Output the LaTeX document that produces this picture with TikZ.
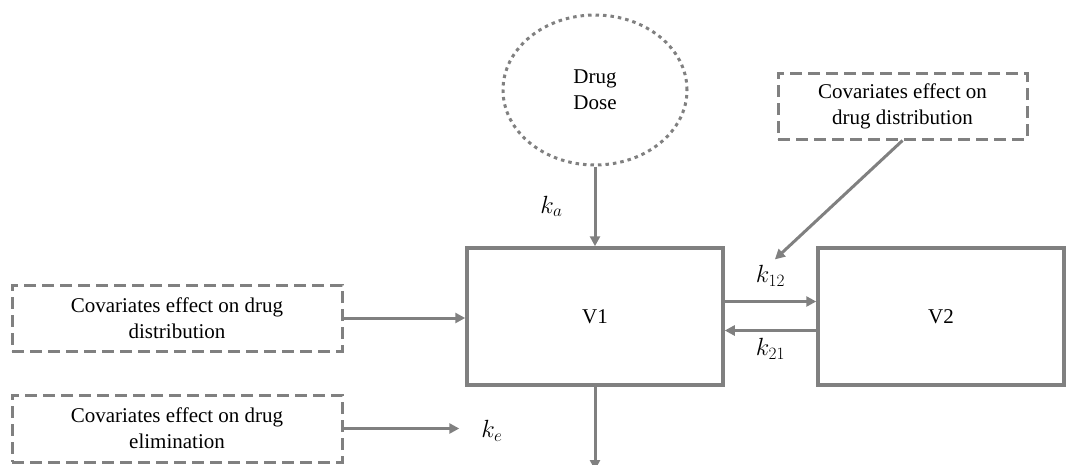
\documentclass[tikz,border=0pt]{standalone}
\usepackage{fontspec}
\setmainfont{Liberation Serif}
\usetikzlibrary{shapes.geometric,arrows.meta}
\definecolor{boxgray}{RGB}{128,128,128}

\begin{document}
\begin{tikzpicture}[x=1pt,y=-1pt]
        \tikzstyle{every node}+=[inner sep=0pt, align=center, font=\fontsize{21}{26}\selectfont]
        \tikzstyle{comp}=[draw=boxgray, line width=3.5pt, rectangle, minimum height=137pt]
        \tikzstyle{cov}=[draw=boxgray, line width=3pt, dash pattern=on 12pt off 6pt, rectangle, minimum height=66pt]
        \tikzstyle{flow}=[draw=boxgray, line width=3pt, -{Triangle[length=10pt,width=10pt]}]
        \tikzstyle{rate}=[font=\fontsize{25}{30}\selectfont]
        \useasboundingbox (0,0) rectangle (1066,464);
        % dose and compartments
        \node [draw=boxgray, line width=3pt, dash pattern=on 3.5pt off 4pt, ellipse, minimum width=184pt, minimum height=150pt] (dose) at (595,90) {Drug\\Dose};
        \node [comp, minimum width=256pt] (v1) at (595,316.5) {V1};
        \node [comp, minimum width=246pt] (v2) at (941,316.5) {V2};
        % covariate boxes
        \node [cov, minimum width=249pt] (cdist) at (902.5,106) {Covariates effect on\\drug distribution};
        \node [cov, minimum width=330pt] (cdistl) at (177,318) {Covariates effect on drug\\distribution};
        \node [cov, minimum width=330pt, minimum height=67pt] (celim) at (177,428.5) {Covariates effect on drug\\elimination};
        \node [rate] (ke) at (492,431) {$k_e$};
        \coordinate (sink) at (595,470);
        % flows
        \draw [flow] (dose) -- node [rate, left=31pt] (ka) {$k_a$} (v1);
        \draw [flow] ([yshift=15pt]v1.east) -- node [rate, above=14pt] (k12) {$k_{12}$} ([yshift=15pt]v2.west);
        \draw [flow] ([yshift=-14pt]v2.west) -- node [rate, below=6pt] (k21) {$k_{21}$} ([yshift=-14pt]v1.east);
        \draw [flow, shorten >=6pt] (cdist.south) -- (k12.north);
        \draw [flow] (cdistl) -- (cdistl -| v1.west);
        \draw [flow, shorten >=22pt] (celim.east) -- (celim.east -| ke.west);
        \draw [flow] (v1) -- (sink);
\end{tikzpicture}
\end{document}
